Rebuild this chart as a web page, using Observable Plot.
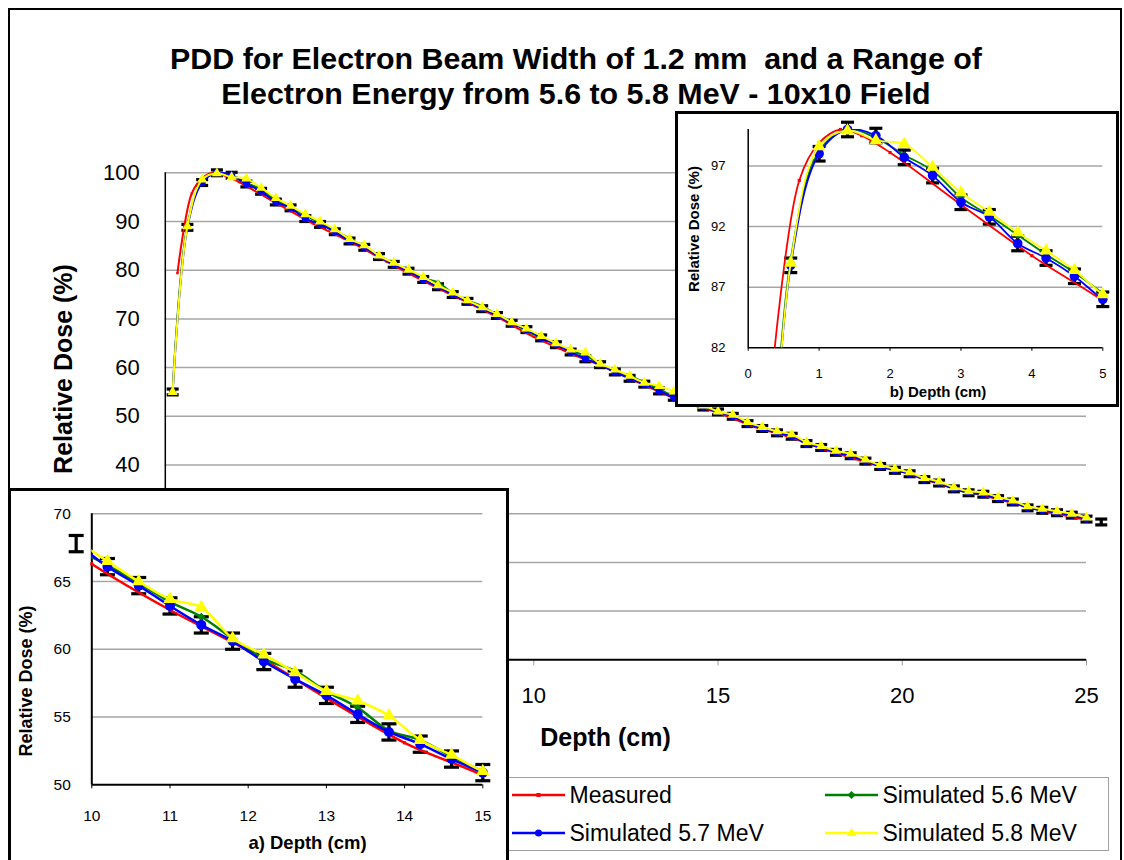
<!DOCTYPE html>
<html><head><meta charset="utf-8">
<script src="https://cdn.jsdelivr.net/npm/d3@7"></script>
<script src="https://cdn.jsdelivr.net/npm/@observablehq/plot@0.6"></script>
<style>
html,body{margin:0;padding:0;background:#fff;}
#root{position:relative;width:1124px;height:860px;overflow:hidden;font-family:"Liberation Sans",Arial,sans-serif;color:#000;background:#fff;}
.lbl{position:absolute;white-space:pre;line-height:1;}
.box{position:absolute;box-sizing:border-box;background:#fff;}
svg{display:block;}
</style></head><body><div id="root"></div>
<script>
// ---------------- DATA ----------------
const titleLines = ["PDD for Electron Beam Width of 1.2 mm  and a Range of", "Electron Energy from 5.6 to 5.8 MeV - 10x10 Field"];
const seriesNames = ["Measured", "Simulated 5.6 MeV", "Simulated 5.7 MeV", "Simulated 5.8 MeV"];

const measDepth = [0.33, 0.72, 1.0, 1.3, 1.6, 2.0, 3.0, 4.0, 5.0,
  6, 7, 8, 9, 10, 11, 12, 13, 14, 15, 16, 17, 18, 19, 20, 21, 22, 23, 24, 25];
const measDose = [79.4, 95.8, 98.9, 100.0, 99.5, 98.1, 93.8, 89.6, 85.9,
  81.8, 77.8, 74.1, 70.4, 66.3, 62.9, 59.9, 56.4, 53.1, 50.7, 47.8, 45.6, 42.9, 40.6, 38.6, 36.1, 34.1, 32.2, 30.3, 28.7];

const simDepth = [0.2, 0.6, 1.0, 1.4, 1.8, 2.2, 2.6, 3.0, 3.4, 3.8, 4.2, 4.6, 5.0,
  5.4, 5.8, 6.2, 6.6, 7.0, 7.4, 7.8, 8.2, 8.6, 9.0, 9.4, 9.8, 10.2,
  10.6, 11.0, 11.4, 11.8, 12.2, 12.6, 13.0, 13.4, 13.8, 14.2, 14.6, 15.0, 15.4,
  15.8, 16.2, 16.6, 17.0, 17.4, 17.8, 18.2, 18.6, 19.0, 19.4, 19.8, 20.2, 20.6,
  21.0, 21.4, 21.8, 22.2, 22.6, 23.0, 23.4, 23.8, 24.2, 24.6, 25.0, 25.4];
const sim56 = [55.2, 89.3, 98.2, 100.0, 99.3, 97.9, 96.6, 94.4, 92.9, 91.3, 89.7, 88.2, 86.5,
  84.9, 83.0, 81.4, 80.0, 78.4, 77.5, 75.3, 73.8, 72.6, 70.9, 69.4, 67.5, 66.2,
  64.9, 63.5, 62.4, 60.8, 59.3, 58.4, 56.9, 55.7, 54.0, 53.3, 52.1, 51.0, 50.1,
  48.6, 47.4, 46.8, 46.1, 44.5, 43.7, 42.8, 42.0, 40.9, 39.9, 39.0, 38.3, 37.2,
  36.4, 35.3, 34.2, 34.1, 33.3, 32.5, 31.2, 30.8, 30.3, 29.8, 29.0, 28.4];
const sim57 = [55.0, 88.8, 98.0, 100.0, 99.5, 97.7, 96.2, 94.0, 92.8, 90.6, 89.4, 87.9, 86.0,
  84.7, 82.8, 81.2, 79.8, 78.1, 76.6, 75.0, 73.6, 72.1, 70.7, 69.1, 67.8, 66.1,
  64.7, 63.2, 61.8, 60.6, 59.1, 57.8, 56.6, 55.2, 53.9, 53.0, 51.9, 50.9, 50.0,
  48.5, 47.5, 46.6, 45.9, 44.4, 43.6, 42.6, 41.9, 40.8, 39.7, 38.9, 38.2, 37.0,
  36.3, 35.1, 34.3, 34.0, 33.1, 32.4, 31.2, 30.7, 30.2, 29.7, 28.9, 28.3];
const sim58 = [55.0, 89.0, 98.6, 99.9, 99.1, 98.8, 96.9, 94.8, 93.2, 91.5, 90.0, 88.4, 86.4,
  85.1, 83.0, 81.5, 80.1, 78.6, 76.9, 75.4, 73.8, 72.4, 71.0, 69.3, 68.0, 66.5,
  65.0, 63.7, 63.1, 60.8, 59.6, 58.3, 56.9, 56.2, 55.1, 53.3, 52.2, 51.0, 50.3,
  48.8, 47.8, 46.9, 46.3, 44.7, 43.9, 42.9, 42.3, 41.1, 40.0, 39.2, 38.5, 37.3,
  36.6, 35.4, 34.6, 34.35, 33.4, 32.7, 31.5, 31.0, 30.5, 30.0, 29.2, 28.6];
const simError = 0.6; // +/- error bar on the 5.7 MeV series

const mainXTicks = [0, 5, 10, 15, 20, 25];
const mainYTicks = [0, 10, 20, 30, 40, 50, 60, 70, 80, 90, 100];
const insetAXTicks = [10, 11, 12, 13, 14, 15];
const insetAYTicks = [50, 55, 60, 65, 70];
const insetBXTicks = [0, 1, 2, 3, 4, 5];
const insetBYTicks = [82, 87, 92, 97];

const axisTitles = {main: ["Depth (cm)", "Relative Dose (%)"], a: ["a) Depth (cm)", "Relative Dose (%)"], b: ["b) Depth (cm)", "Relative Dose (%)"]};

// ---------------- BUILD ----------------
const RED = "#ff0000", GREEN = "#008000", BLUE = "#0000ff", YELLOW = "#ffff00", GRID = "#a6a6a6";
const FONT = '"Liberation Sans", Arial, sans-serif';
const root = document.getElementById("root");

const simRows = simDepth.map((d, i) => ({d, s56: sim56[i], s57: sim57[i], s58: sim58[i], lo: sim57[i] - simError, hi: sim57[i] + simError}));
const measRows = measDepth.map((d, i) => ({d, v: measDose[i]}));

const capSymbol = {draw(ctx, size) { const w = Math.sqrt(size / Math.PI); ctx.moveTo(-w, 0); ctx.lineTo(w, 0); }};

function seriesMarks(o) {
  const eps = 1e-9;
  const inX = r => r.d >= o.xdom[0] - eps && r.d <= o.xdom[1] + eps;
  const lineSim = o.clip ? simRows : simRows.filter(inX);
  const lineMeas = o.clip ? measRows : measRows.filter(inX);
  const dotSim = (k) => simRows.filter(r => inX(r) && r[k] >= o.ydom[0] && r[k] <= o.ydom[1]);
  const dotMeas = measRows.filter(r => inX(r) && r.v >= o.ydom[0] && r.v <= o.ydom[1]);
  const errRows = simRows.filter(r => r.d >= o.err[0] - eps && r.d <= o.err[1] + eps);
  const curve = "catmull-rom";
  return [
    Plot.ruleX(errRows, {x: "d", y1: "lo", y2: "hi", stroke: "#000", strokeWidth: o.ew}),
    Plot.dot(errRows, {x: "d", y: "lo", symbol: capSymbol, r: o.rCap, fill: "none", stroke: "#000", strokeWidth: o.ew}),
    Plot.dot(errRows, {x: "d", y: "hi", symbol: capSymbol, r: o.rCap, fill: "none", stroke: "#000", strokeWidth: o.ew}),
    Plot.line(lineMeas, {x: "d", y: "v", stroke: RED, strokeWidth: o.lw, curve, clip: o.clip}),
    Plot.dot(dotMeas, {x: "d", y: "v", symbol: "square", r: o.rSq, fill: RED, stroke: "none"}),
    Plot.line(lineSim, {x: "d", y: "s56", stroke: GREEN, strokeWidth: o.lw, curve, clip: o.clip}),
    Plot.dot(dotSim("s56"), {x: "d", y: "s56", symbol: "diamond2", r: o.rDia, fill: GREEN, stroke: "none"}),
    Plot.line(lineSim, {x: "d", y: "s57", stroke: BLUE, strokeWidth: o.lw, curve, clip: o.clip}),
    Plot.dot(dotSim("s57"), {x: "d", y: "s57", symbol: "circle", r: o.rCirc, fill: BLUE, stroke: "none"}),
    Plot.line(lineSim, {x: "d", y: "s58", stroke: YELLOW, strokeWidth: o.lw, curve, clip: o.clip}),
    Plot.dot(dotSim("s58"), {x: "d", y: "s58", symbol: "triangle", r: o.rTri, fill: YELLOW, stroke: "none"})
  ];
}

function place(el, left, top) { el.style.position = "absolute"; el.style.left = left + "px"; el.style.top = top + "px"; root.appendChild(el); return el; }
function box(left, top, w, h, border) { const d = document.createElement("div"); d.className = "box"; Object.assign(d.style, {left: left + "px", top: top + "px", width: w + "px", height: h + "px", border}); root.appendChild(d); return d; }
function label(text, x, y, size, opts = {}) {
  const d = document.createElement("div"); d.className = "lbl"; d.textContent = text;
  d.style.left = x + "px"; d.style.top = y + "px"; d.style.fontSize = size + "px";
  d.style.fontWeight = opts.bold ? "bold" : "normal";
  const tx = opts.anchor === "start" ? "0" : "-50%";
  d.style.transform = `translate(${tx},-50%)`;
  root.appendChild(d); return d;
}
function rotLabel(text, cx, cy, size) {
  const d = document.createElement("div"); d.className = "lbl"; d.textContent = text;
  d.style.fontSize = size + "px"; d.style.fontWeight = "bold";
  d.style.left = cx + "px"; d.style.top = cy + "px";
  d.style.transform = "translate(-50%,-50%) rotate(-90deg)";
  root.appendChild(d); return d;
}

// outer chart border
box(8, 8, 1114, 900, "2px solid #000");

// title
label(titleLines[0], 576, 57.5, 30.4, {bold: true});
label(titleLines[1], 576, 92.5, 30.4, {bold: true});

// main plot
const mainPlot = Plot.plot({
  width: 1124, height: 720,
  marginLeft: 164.8, marginRight: 38, marginTop: 172.3, marginBottom: 60.7,
  x: {domain: [0, 25]}, y: {domain: [0, 100]},
  style: {fontFamily: FONT, fontSize: "22px", background: "transparent", color: "#000", overflow: "visible"},
  marks: [
    Plot.gridY(mainYTicks.filter(t => t > 0), {stroke: GRID, strokeOpacity: 1, strokeWidth: 1.5}),
    Plot.axisX(mainXTicks, {tickSize: 6, tickPadding: 22, fontSize: 22, label: null, stroke: "#999"}),
    Plot.axisY(mainYTicks, {tickSize: 0, tickPadding: 25.5, fontSize: 22, label: null}),
    Plot.ruleY([0], {stroke: "#000", strokeWidth: 2}),
    Plot.ruleX([0], {stroke: "#000", strokeWidth: 1.5}),
    ...seriesMarks({xdom: [0, 25], ydom: [0, 100], clip: false, err: [0.2, 25.4], lw: 2, ew: 3.2, rCap: 6, rSq: 1.3, rDia: 2.6, rCirc: 3.6, rTri: 3.8})
  ]
});
place(mainPlot, 0, 0);
label(axisTitles.main[0], 605.5, 737, 25, {bold: true});
rotLabel(axisTitles.main[1], 62.5, 369, 25);

// legend
box(508, 777, 601, 74, "1.5px solid #a0a0a0");
const legendItems = [
  {name: seriesNames[0], color: RED, sym: "sq", x: 512, y: 795},
  {name: seriesNames[1], color: GREEN, sym: "dia", x: 825, y: 795},
  {name: seriesNames[2], color: BLUE, sym: "circ", x: 512, y: 833},
  {name: seriesNames[3], color: YELLOW, sym: "tri", x: 825, y: 833}
];
for (const it of legendItems) {
  const svg = d3.create("svg").attr("width", 54).attr("height", 16);
  svg.append("line").attr("x1", 0).attr("x2", 53).attr("y1", 8).attr("y2", 8).attr("stroke", it.color).attr("stroke-width", 2.5);
  const c = 26.5;
  if (it.sym === "sq") svg.append("rect").attr("x", c - 2).attr("y", 6).attr("width", 4).attr("height", 4).attr("fill", it.color);
  if (it.sym === "dia") svg.append("path").attr("d", `M${c},4L${c + 4},8L${c},12L${c - 4},8Z`).attr("fill", it.color);
  if (it.sym === "circ") svg.append("circle").attr("cx", c).attr("cy", 8).attr("r", 3.5).attr("fill", it.color);
  if (it.sym === "tri") svg.append("path").attr("d", `M${c},3L${c + 5},11L${c - 5},11Z`).attr("fill", it.color);
  place(svg.node(), it.x, it.y - 8);
  label(it.name, it.x + 57.5, it.y, 23, {anchor: "start"});
}

// inset a
box(8, 488, 501, 420, "3px solid #000");
const insetA = Plot.plot({
  width: 495, height: 369,
  marginLeft: 80.3, marginRight: 23.7, marginTop: 22.3, marginBottom: 75.7,
  x: {domain: [10, 15]}, y: {domain: [50, 70]},
  style: {fontFamily: FONT, fontSize: "15.5px", background: "transparent", color: "#000", overflow: "visible"},
  marks: [
    Plot.gridY(insetAYTicks.filter(t => t > 50), {stroke: GRID, strokeOpacity: 1, strokeWidth: 1.5}),
    Plot.axisX(insetAXTicks, {tickSize: 4, tickPadding: 21, fontSize: 15.5, label: null}),
    Plot.axisY(insetAYTicks, {tickSize: 0, tickPadding: 21, fontSize: 15.5, label: null}),
    Plot.ruleY([50], {stroke: "#000", strokeWidth: 2}),
    Plot.ruleX([10], {stroke: "#000", strokeWidth: 2}),
    ...seriesMarks({xdom: [10, 15], ydom: [50, 70], clip: true, err: [9.8, 15.0], lw: 2.5, ew: 3.2, rCap: 7.5, rSq: 1.8, rDia: 3.6, rCirc: 5, rTri: 4.9})
  ]
});
place(insetA, 11, 491);
label(axisTitles.a[0], 307.5, 842.5, 18.5, {bold: true});
rotLabel(axisTitles.a[1], 26, 681, 18);

// inset b
box(675, 111, 444, 296, "3px solid #000");
const insetB = Plot.plot({
  width: 438, height: 290,
  marginLeft: 69.7, marginRight: 13.7, marginTop: 15, marginBottom: 56.7,
  x: {domain: [0, 5]}, y: {domain: [82, 100]},
  style: {fontFamily: FONT, fontSize: "13px", background: "transparent", color: "#000", overflow: "visible"},
  marks: [
    Plot.gridY(insetBYTicks.filter(t => t > 82), {stroke: GRID, strokeOpacity: 1, strokeWidth: 1.5}),
    Plot.axisX(insetBXTicks, {tickSize: 3.5, tickPadding: 17.5, fontSize: 13, label: null}),
    Plot.axisY(insetBYTicks, {tickSize: 0, tickPadding: 22.7, fontSize: 13, label: null}),
    Plot.ruleY([82], {stroke: "#000", strokeWidth: 1.5}),
    Plot.ruleX([0], {stroke: "#000", strokeWidth: 1.5}),
    ...seriesMarks({xdom: [0, 5], ydom: [82, 100], clip: true, err: [0.6, 5.0], lw: 1.8, ew: 3.2, rCap: 6.5, rSq: 1.8, rDia: 3.4, rCirc: 4.8, rTri: 4.8})
  ]
});
place(insetB, 678, 114);
label(axisTitles.b[0], 938, 390.5, 15, {bold: true});
rotLabel(axisTitles.b[1], 693, 229, 15);
</script>
</body></html>
